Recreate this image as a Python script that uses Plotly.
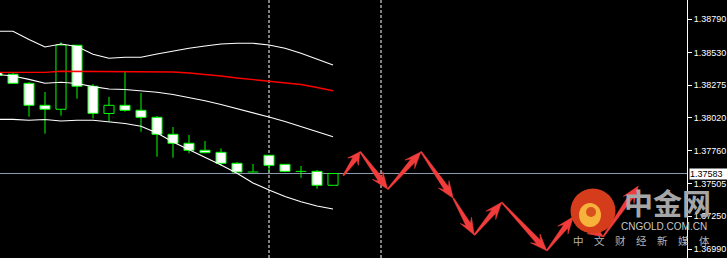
import plotly.graph_objects as go

# ---------------- data ----------------
idx = list(range(22))
open_ = [1.38374, 1.38360, 1.38289, 1.38117, 1.38086, 1.38587, 1.38266, 1.38053, 1.38117, 1.38078, 1.38023,
         1.37890, 1.37820, 1.37765, 1.37749, 1.37663, 1.37595, 1.37726, 1.37655, 1.37600, 1.37600, 1.37491]
high = [1.38378, 1.38372, 1.38299, 1.38221, 1.38610, 1.38587, 1.38284, 1.38182, 1.38380, 1.38213, 1.38033,
        1.37947, 1.37885, 1.37838, 1.37780, 1.37673, 1.37658, 1.37726, 1.37655, 1.37642, 1.37611, 1.37587]
low = [1.38346, 1.38289, 1.38028, 1.37895, 1.38036, 1.38169, 1.38014, 1.37990, 1.38067, 1.37910, 1.37715,
       1.37707, 1.37741, 1.37741, 1.37644, 1.37595, 1.37595, 1.37597, 1.37593, 1.37550, 1.37464, 1.37491]
close = [1.38350, 1.38289, 1.38117, 1.38086, 1.38589, 1.38266, 1.38054, 1.38117, 1.38078, 1.38023, 1.37890,
         1.37820, 1.37765, 1.37746, 1.37663, 1.37595, 1.37595, 1.37647, 1.37600, 1.37600, 1.37491, 1.37583]

bb_upper = [1.38696, 1.38696, 1.38632, 1.38573, 1.38597, 1.38577, 1.38516, 1.38485, 1.38493, 1.38493, 1.38518,
            1.38542, 1.38563, 1.38581, 1.38597, 1.38602, 1.38602, 1.38589, 1.38563, 1.38524, 1.38479, 1.38432]
bb_mid = [1.38358, 1.38346, 1.38320, 1.38289, 1.38297, 1.38288, 1.38263, 1.38245, 1.38241, 1.38229, 1.38219,
          1.38201, 1.38178, 1.38153, 1.38123, 1.38092, 1.38061, 1.38025, 1.37990, 1.37951, 1.37912, 1.37871]
bb_lower = [1.38007, 1.38007, 1.38000, 1.38006, 1.37994, 1.38000, 1.38000, 1.37990, 1.37975, 1.37953, 1.37900,
            1.37830, 1.37771, 1.37708, 1.37650, 1.37585, 1.37509, 1.37454, 1.37403, 1.37362, 1.37329, 1.37305]
ma_red = [1.38375, 1.38375, 1.38375, 1.38375, 1.38383, 1.38383, 1.38383, 1.38383, 1.38383, 1.38383, 1.38383,
          1.38378, 1.38370, 1.38360, 1.38346, 1.38331, 1.38319, 1.38307, 1.38295, 1.38280, 1.38256, 1.38231]

arrow_idx = [21.64, 22.69, 24.42, 26.50, 28.52, 29.83, 31.54, 34.36, 36.02, 37.89, 40.08]
arrow_price = [1.37566, 1.37754, 1.37460, 1.37754, 1.37389, 1.37102, 1.37358, 1.36979, 1.37245, 1.37089, 1.37485]

vline_idx = [17, 24]
current_price = 1.37583
tick_vals = [1.38790, 1.38530, 1.38275, 1.38020, 1.37760, 1.37505, 1.37250, 1.36990]
tick_text = ["1.38790", "1.38530", "1.38275", "1.38020", "1.37760", "1.37505", "1.37250", "1.36990"]

# ---------------- layout constants ----------------
W, H = 727, 258
MR = 40
PW, PH = W - MR, H
x_rng = [0.1875, 43.125]
y_rng = [1.36922, 1.38941]
sx = PW / (x_rng[1] - x_rng[0])
sy = PH / (y_rng[1] - y_rng[0])

GREEN = "#00ff00"

fig = go.Figure()

# candle bodies
bx, bh, bb, bc = [], [], [], []
for i, o, c in zip(idx, open_, close):
    if abs(c - o) > 1e-9:
        bx.append(i)
        bh.append(abs(c - o))
        bb.append(min(o, c))
        bc.append("#ffffff" if c < o else "#000000")
fig.add_trace(go.Bar(x=bx, y=bh, base=bb, width=0.63,
                     marker=dict(color=bc, line=dict(color=GREEN, width=1)),
                     hoverinfo="skip", showlegend=False))

# wicks and doji bars
wx, wy = [], []
for i, o, h, l, c in zip(idx, open_, high, low, close):
    top, bot = max(o, c), min(o, c)
    if h > top:
        wx += [i, i, None]; wy += [h, top, None]
    if bot > l:
        wx += [i, i, None]; wy += [bot, l, None]
    if abs(c - o) <= 1e-9:
        wx += [i - 0.33, i + 0.33, None]; wy += [o, o, None]
fig.add_trace(go.Scatter(x=wx, y=wy, mode="lines", line=dict(color=GREEN, width=1),
                         hoverinfo="skip", showlegend=False))

# bands and MA
for ser, col, w in [(bb_upper, "#ffffff", 1.1), (bb_mid, "#ffffff", 1.1),
                    (bb_lower, "#ffffff", 1.1), (ma_red, "#ff0000", 1.4)]:
    fig.add_trace(go.Scatter(x=idx, y=ser, mode="lines", line=dict(color=col, width=w, shape="linear"),
                             hoverinfo="skip", showlegend=False))

# arrows (polygons computed from arrow points)
def to_px(k, p):
    return ((k - x_rng[0]) * sx, (y_rng[1] - p) * sy)

def to_data(px, py):
    return (px / sx + x_rng[0], y_rng[1] - py / sy)

ax_, ay_ = [], []
for j in range(len(arrow_idx) - 1):
    x0, y0 = to_px(arrow_idx[j], arrow_price[j])
    x1, y1 = to_px(arrow_idx[j + 1], arrow_price[j + 1])
    dx, dy = x1 - x0, y1 - y0
    L = (dx * dx + dy * dy) ** 0.5
    ux, uy = dx / L, dy / L
    nx, ny = -uy, ux
    hl = min(17.0, 0.42 * L)
    pts = [
        (x0 + nx * 0.6, y0 + ny * 0.6),
        (x1 - ux * hl * 0.72 + nx * 2.6, y1 - uy * hl * 0.72 + ny * 2.6),
        (x1 - ux * hl + nx * 6.5, y1 - uy * hl + ny * 6.5),
        (x1, y1),
        (x1 - ux * hl - nx * 6.5, y1 - uy * hl - ny * 6.5),
        (x1 - ux * hl * 0.72 - nx * 2.6, y1 - uy * hl * 0.72 - ny * 2.6),
        (x0 - nx * 0.6, y0 - ny * 0.6),
    ]
    for px, py in pts:
        kx, pv = to_data(px, py)
        ax_.append(kx); ay_.append(pv)
    ax_.append(None); ay_.append(None)
fig.add_trace(go.Scatter(x=ax_, y=ay_, mode="lines", fill="toself", fillcolor="#f23c3c",
                         line=dict(color="#f23c3c", width=0.5), hoverinfo="skip", showlegend=False))

# shapes: current price line, dashed verticals
shapes = [dict(type="line", xref="paper", x0=0, x1=1, yref="y", y0=current_price, y1=current_price,
               line=dict(color="#8d9bb0", width=1), layer="below")]
for v in vline_idx:
    shapes.append(dict(type="line", xref="x", x0=v, x1=v, yref="paper", y0=0, y1=1,
                       line=dict(color="#ffffff", width=1, dash="3px,2px"), layer="below"))

# watermark logo (paper coords from pixel positions)
def pxp(px):
    return px / PW

def pyp(py):
    return 1 - py / PH

cx, cy, r = 593, 211, 22.5
shapes.append(dict(type="circle", xref="paper", yref="paper", x0=pxp(cx - r), x1=pxp(cx + r),
                   y0=pyp(cy + r), y1=pyp(cy - r), fillcolor="#d43c1c", line=dict(width=0), layer="above"))
shapes.append(dict(type="circle", xref="paper", yref="paper", x0=pxp(cx - 14), x1=pxp(cx + 8),
                   y0=pyp(cy + 16), y1=pyp(cy - 8), fillcolor="#f6b23a", line=dict(width=0), layer="above"))
shapes.append(dict(type="circle", xref="paper", yref="paper", x0=pxp(cx - 7), x1=pxp(cx + 3),
                   y0=pyp(cy + 6), y1=pyp(cy - 4), fillcolor="#d8501e", line=dict(width=0), layer="above"))

annotations = [
    dict(xref="paper", yref="y", x=1, y=current_price, xanchor="left", yanchor="middle", xshift=2,
         text="1.37583", showarrow=False, bgcolor="#ffffff", borderpad=0, width=38, align="left",
         font=dict(family="Liberation Sans", size=9, color="#000000")),
    dict(xref="paper", yref="paper", x=pxp(667), y=pyp(202), xanchor="center", yanchor="middle",
         text="<b>中金网</b>", showarrow=False,
         font=dict(family="Noto Sans CJK SC", size=29, color="#a6a6a6")),
    dict(xref="paper", yref="paper", x=pxp(664), y=pyp(226), xanchor="center", yanchor="middle",
         text="CNGOLD.COM.CN", showarrow=False,
         font=dict(family="Liberation Sans", size=10, color="#c8c8c8")),
    dict(xref="paper", yref="paper", x=pxp(641), y=pyp(240), xanchor="center", yanchor="middle",
         text="中　文　财　经　新　媒　体", showarrow=False,
         font=dict(family="Noto Sans CJK SC", size=10.5, color="#b4b4b4")),
]

fig.update_layout(
    width=W, height=H, margin=dict(l=0, r=MR, t=0, b=0),
    paper_bgcolor="#000000", plot_bgcolor="#000000",
    showlegend=False, shapes=shapes, annotations=annotations,
    xaxis=dict(range=x_rng, visible=False, fixedrange=True),
    yaxis=dict(range=y_rng, side="right", showgrid=False, zeroline=False,
               showline=True, linecolor="#ffffff", linewidth=1,
               ticks="outside", ticklen=4, tickcolor="#ffffff", tickwidth=1,
               tickmode="array", tickvals=tick_vals, ticktext=tick_text,
               tickfont=dict(family="Liberation Sans", size=9, color="#ffffff"),
               fixedrange=True),
)

fig.write_html("out.html")
